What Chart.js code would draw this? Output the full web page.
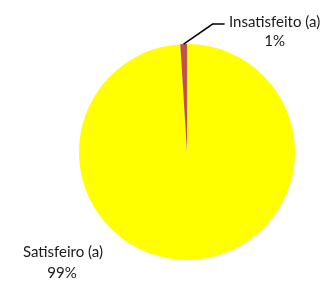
<!DOCTYPE html>
<html>
<head>
<meta charset="utf-8">
<script src="https://cdn.jsdelivr.net/npm/chart.js@4"></script>
<style>
  html, body { margin: 0; padding: 0; background: #fff; }
  #wrap { width: 325px; height: 282px; }
</style>
</head>
<body>
<div id="wrap"><canvas id="chartCanvas" width="325" height="282"></canvas></div>
<script>
// --- data ---
const labels = ["Satisfeiro (a)", "Insatisfeito (a)"];
const values = [99, 1];
const colors = ["#FFFF00", "#C0504D"];

const FONT = "15px Lato";
const TEXT_COLOR = "#1a1a1a";

// draws the Excel-style outside labels (with a leader line for the thin slice)
const outsideLabels = {
  id: "outsideLabels",
  afterDraw(chart) {
    const ctx = chart.ctx;
    const arcs = chart.getDatasetMeta(0).data;
    const total = values.reduce((a, b) => a + b, 0);
    ctx.save();
    ctx.font = FONT;
    ctx.fillStyle = TEXT_COLOR;
    ctx.textAlign = "center";
    ctx.textBaseline = "middle";

    // big slice: label at lower left
    const big = arcs[0];
    const pctBig = Math.round(values[0] / total * 100) + "%";
    ctx.fillText(labels[0], big.x - 124, big.y + 100);
    ctx.fillText(pctBig, big.x - 125, big.y + 121);

    // thin slice: leader line from its outer edge
    const small = arcs[1];
    const mid = (small.startAngle + small.endAngle) / 2;
    const ex = small.x + small.outerRadius * Math.cos(mid);
    const ey = small.y + small.outerRadius * Math.sin(mid);
    const elbowX = ex + 29, elbowY = ey - 20;
    const endX = elbowX + 12;
    ctx.strokeStyle = "#000";
    ctx.lineWidth = 1.5;
    ctx.beginPath();
    ctx.moveTo(ex, ey);
    ctx.lineTo(elbowX, elbowY);
    ctx.lineTo(endX, elbowY);
    ctx.stroke();
    const pctSmall = Math.round(values[1] / total * 100) + "%";
    ctx.fillText(labels[1], endX + 50, elbowY - 2);
    ctx.fillText(pctSmall, endX + 50, elbowY + 17);
    ctx.restore();
  }
};

new Chart(document.getElementById("chartCanvas"), {
  type: "pie",
  data: {
    labels,
    datasets: [{
      data: values,
      backgroundColor: colors,
      borderWidth: 0
    }]
  },
  options: {
    responsive: false,
    animation: false,
    layout: { padding: { left: 79, right: 30, top: 44, bottom: 22 } },
    plugins: {
      legend: { display: false },
      tooltip: { enabled: false }
    }
  },
  plugins: [outsideLabels]
});
</script>
</body>
</html>
